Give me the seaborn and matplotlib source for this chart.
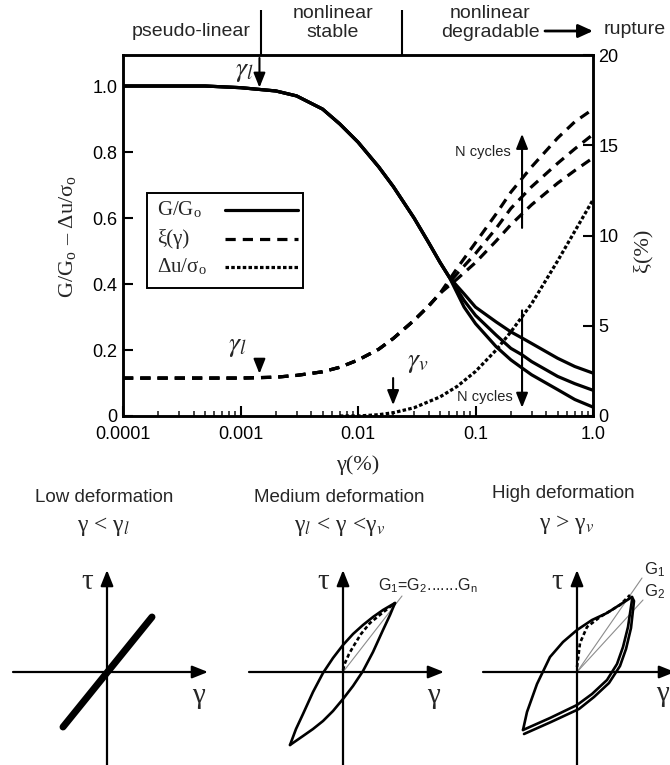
import matplotlib
matplotlib.use("Agg")
import matplotlib.pyplot as plt
from matplotlib.patches import Rectangle, FancyArrowPatch
import pandas as pd
import seaborn as sns

sns.set_theme(style="white")
plt.rcParams["font.family"] = ["Liberation Sans", "DejaVu Sans"]
plt.rcParams["mathtext.fontset"] = "stix"
SERIF = ["Liberation Serif", "DejaVu Serif"]

# ---------------- data ----------------
# shear modulus degradation G/Go, common part then three cycle counts
gamma_common = [1e-4, 2e-4, 5e-4, 1e-3, 2e-3, 3e-3, 5e-3, 7e-3, 1e-2, 1.5e-2, 2e-2, 3e-2, 4e-2, 5e-2, 6e-2]
modulus_common = [1.00, 1.00, 1.00, 0.995, 0.985, 0.97, 0.93, 0.885, 0.83, 0.755, 0.695, 0.60, 0.525, 0.465, 0.42]
gamma_tail = [0.08, 0.1, 0.15, 0.2, 0.25, 0.3, 0.5, 0.7, 1.0]
modulus_n1 = [0.37, 0.33, 0.285, 0.255, 0.236, 0.22, 0.175, 0.15, 0.13]
modulus_n2 = [0.35, 0.305, 0.245, 0.205, 0.185, 0.165, 0.12, 0.098, 0.078]
modulus_n3 = [0.33, 0.28, 0.21, 0.17, 0.145, 0.125, 0.08, 0.05, 0.027]

# damping ratio xi (%)
gamma_damp_common = [1e-4, 5e-4, 1e-3, 2e-3, 3e-3, 5e-3, 7e-3, 1e-2, 1.5e-2, 2e-2, 3e-2, 4e-2, 5e-2]
damping_common = [2.1, 2.1, 2.1, 2.15, 2.25, 2.45, 2.7, 3.1, 3.7, 4.3, 5.3, 6.1, 6.8]
gamma_damp_tail = [0.07, 0.1, 0.15, 0.2, 0.3, 0.5, 0.7, 1.0]
damping_n1 = [7.6, 8.5, 9.7, 10.6, 11.7, 12.9, 13.6, 14.3]
damping_n2 = [7.9, 9.0, 10.4, 11.5, 12.7, 14.0, 14.8, 15.6]
damping_n3 = [8.2, 9.6, 11.2, 12.4, 13.8, 15.4, 16.3, 17.0]

# excess pore pressure ratio
gamma_pore = [0.007, 0.01, 0.015, 0.02, 0.03, 0.05, 0.07, 0.1, 0.15, 0.2, 0.3, 0.5, 0.7, 1.0]
pore_ratio = [0.0, 0.0, 0.004, 0.01, 0.025, 0.058, 0.09, 0.135, 0.2, 0.255, 0.34, 0.47, 0.56, 0.655]

# threshold strains
gamma_l = 0.00145
gamma_v = 0.0199
regime_bounds = [0.0015, 0.0237]
gamma_ncycles = 0.249

x_ticks = [1e-4, 1e-3, 1e-2, 1e-1, 1.0]
x_ticklabels = ["0.0001", "0.001", "0.01", "0.1", "1.0"]
y_ticks = [0, 0.2, 0.4, 0.6, 0.8, 1.0]
y_ticklabels = ["0", "0.2", "0.4", "0.6", "0.8", "1.0"]
xi_ticks = [0, 5, 10, 15, 20]

legend_labels = ["G/G$_\\mathregular{o}$", "\u03be(\u03b3)", "\u0394u/\u03c3$_\\mathregular{o}$"]

# schematic stress-strain loops (normalised strain, stress)
lin_g = [-0.44, 0.45]
lin_t = [-0.55, 0.55]

mid_up_g = [-0.53, -0.47, -0.40, -0.30, -0.20, -0.10, 0.0, 0.10, 0.20, 0.30, 0.40, 0.52]
mid_up_t = [-0.73, -0.57, -0.42, -0.20, -0.01, 0.14, 0.27, 0.38, 0.47, 0.55, 0.62, 0.69]
mid_lo_g = [-0.53, -0.40, -0.30, -0.20, -0.10, 0.0, 0.10, 0.20, 0.30, 0.40, 0.47, 0.52]
mid_lo_t = [-0.73, -0.64, -0.57, -0.49, -0.39, -0.27, -0.14, 0.01, 0.20, 0.42, 0.57, 0.69]
mid_bb_g = [0.0, 0.02, 0.06, 0.10, 0.18, 0.27, 0.38, 0.52]
mid_bb_t = [0.02, 0.09, 0.18, 0.25, 0.38, 0.49, 0.58, 0.69]
mid_sec_g = [0.0, 0.59]
mid_sec_t = [0.0, 0.76]

high_up_g = [-0.54, -0.50, -0.40, -0.27, -0.14, 0.0, 0.15, 0.30, 0.55]
high_up_t = [-0.58, -0.40, -0.12, 0.15, 0.30, 0.42, 0.52, 0.59, 0.75]
high_lo1_g = [-0.54, -0.27, 0.0, 0.15, 0.30, 0.40, 0.46, 0.51, 0.55]
high_lo1_t = [-0.58, -0.46, -0.33, -0.22, -0.08, 0.08, 0.25, 0.45, 0.72]
high_lo2_g = [-0.53, -0.26, 0.02, 0.17, 0.32, 0.43, 0.49, 0.54, 0.57, 0.55]
high_lo2_t = [-0.62, -0.50, -0.37, -0.25, -0.11, 0.06, 0.23, 0.44, 0.71, 0.75]
high_bb_g = [0.0, 0.03, 0.10, 0.23, 0.43, 0.53]
high_bb_t = [0.05, 0.29, 0.45, 0.55, 0.67, 0.77]
high_sec1 = [0.65, 0.94]
high_sec2 = [0.66, 0.72]

# ---------------- figure ----------------
W, H = 670, 765
fig = plt.figure(figsize=(W / 100, H / 100), dpi=100)


def rect(l, t, r, b):
    return [l / W, 1 - b / H, (r - l) / W, (b - t) / H]


def fx(x):
    return x / W


def fy(y):
    return 1 - y / H


ax = fig.add_axes(rect(123, 55, 593, 416))
ax.set_xscale("log")
ax.set_xlim(1e-4, 1.0)
ax.set_ylim(0, 1.094)
ax2 = ax.twinx()
ax2.set_ylim(0, 20)

LW = 2.3
DASH = (0, (3.2, 2.2))
DOT = (0, (1.1, 0.7))

# long-form tables
rows = []
for name, tail in [("N1", modulus_n1), ("N2", modulus_n2), ("N3", modulus_n3)]:
    for g, v in zip(gamma_common + gamma_tail, modulus_common + tail):
        rows.append({"gamma": g, "value": v, "cycle": name})
df_mod = pd.DataFrame(rows)

rows = []
for name, tail in [("N1", damping_n1), ("N2", damping_n2), ("N3", damping_n3)]:
    for g, v in zip(gamma_damp_common + gamma_damp_tail, damping_common + tail):
        rows.append({"gamma": g, "value": v, "cycle": name})
df_damp = pd.DataFrame(rows)

df_pore = pd.DataFrame({"gamma": gamma_pore, "value": pore_ratio})

sns.lineplot(data=df_mod, x="gamma", y="value", units="cycle", estimator=None,
             color="black", lw=LW, ax=ax, legend=False)
sns.lineplot(data=df_pore, x="gamma", y="value", estimator=None,
             color="black", lw=LW, linestyle=DOT, ax=ax, legend=False, clip_on=False)
sns.lineplot(data=df_damp, x="gamma", y="value", units="cycle", estimator=None,
             color="black", lw=LW, linestyle=DASH, ax=ax2, legend=False)

# axes styling
for a in (ax, ax2):
    for s in a.spines.values():
        s.set_linewidth(1.8)
        s.set_color("black")
    a.set_xlabel("")
    a.set_ylabel("")
ax.set_xticks(x_ticks)
ax.set_xticklabels(x_ticklabels)
ax.set_yticks(y_ticks)
ax.set_yticklabels(y_ticklabels)
ax2.set_yticks(xi_ticks)
ax2.set_yticklabels([str(v) for v in xi_ticks])
ax.tick_params(axis="y", which="major", direction="in", length=7, width=1.5,
               labelsize=13, colors="black", pad=4, left=True, right=False)
ax.tick_params(axis="x", which="major", direction="in", length=7, width=1.5,
               labelsize=13, colors="black", pad=7, bottom=True, top=False)
ax.tick_params(axis="x", which="minor", direction="in", length=3.5, width=1.2,
               bottom=True, top=False)
ax.tick_params(axis="y", which="minor", left=False, right=False)
ax2.tick_params(axis="y", which="major", direction="in", length=7, width=1.5,
                labelsize=13, colors="black", pad=4, right=True, left=False)
ax.grid(False)
ax2.grid(False)

fig.text(fx(67), fy(237), "G/G$_\\mathregular{o}$ \u2013 \u0394u/\u03c3$_\\mathregular{o}$",
         rotation=90, ha="center", va="center", fontsize=16, family=SERIF)
fig.text(fx(643), fy(250), "\u03be(%)", rotation=90, ha="center", va="center",
         fontsize=16, family=SERIF)
fig.text(fx(358), fy(465), "\u03b3(%)", ha="center", va="center", fontsize=16, family=SERIF)

# legend box: label on the left, line sample on the right
leg_rows_y = [0.571, 0.490, 0.412]
leg_styles = ["-", DASH, DOT]
ax.add_patch(Rectangle((0.051, 0.355), 0.332, 0.263, transform=ax.transAxes,
                       facecolor="white", edgecolor="black", lw=1.4, zorder=4))
for yv, lab, ls in zip(leg_rows_y, legend_labels, leg_styles):
    ax.text(0.072, yv, lab, transform=ax.transAxes, ha="left", va="center",
            fontsize=15, family=SERIF, zorder=5)
    ax.plot([0.217, 0.372], [yv, yv], transform=ax.transAxes, color="black",
            lw=LW, linestyle=ls, zorder=5)

# threshold annotations
arrow_kw = dict(arrowstyle="-|>,head_length=0.55,head_width=0.22", color="black",
                lw=1.5, mutation_scale=16, shrinkA=0, shrinkB=0)
ax.annotate("", xy=(gamma_l, 0.995), xytext=(gamma_l, 1.085), arrowprops=arrow_kw,
            annotation_clip=False)
ax.text(0.00108, 1.045, "$\\gamma_l$", fontsize=20, ha="center", va="center")
ax.annotate("", xy=(gamma_l, 0.128), xytext=(gamma_l, 0.166), arrowprops=arrow_kw)
ax.text(0.00095, 0.212, "$\\gamma_l$", fontsize=20, ha="center", va="center")
ax.annotate("", xy=(gamma_v, 0.033), xytext=(gamma_v, 0.115), arrowprops=arrow_kw)
ax.text(0.0324, 0.164, "$\\gamma_v$", fontsize=20, ha="center", va="center")

ax.annotate("", xy=(gamma_ncycles, 0.855), xytext=(gamma_ncycles, 0.57), arrowprops=arrow_kw)
ax.text(0.199, 0.80, "N cycles", fontsize=10.5, ha="right", va="center", color="#222222")
ax.annotate("", xy=(gamma_ncycles, 0.025), xytext=(gamma_ncycles, 0.32), arrowprops=arrow_kw)
ax.text(0.207, 0.058, "N cycles", fontsize=10.5, ha="right", va="center", color="#222222")

# regime header
ax.vlines(regime_bounds, 1.0, 1.125, color="black", lw=1.5,
          transform=ax.get_xaxis_transform(), clip_on=False)
fig.text(fx(191), fy(31), "pseudo-linear", ha="center", va="center", fontsize=14)
fig.text(fx(333), fy(23), "nonlinear\nstable", ha="center", va="center", fontsize=14,
         linespacing=1.15)
fig.text(fx(490), fy(23), "nonlinear\ndegradable", ha="center", va="center", fontsize=14,
         linespacing=1.15)
fig.text(fx(604), fy(30), "rupture", ha="left", va="center", fontsize=14)
fig.patches.append(FancyArrowPatch(
    (fx(545), fy(31)), (fx(593), fy(31)), transform=fig.transFigure,
    arrowstyle="-|>,head_length=0.55,head_width=0.25", mutation_scale=16,
    color="black", lw=2.0, shrinkA=0, shrinkB=0))

# ---------------- schematic panels ----------------
axis_arrow = dict(arrowstyle="-|>,head_length=0.5,head_width=0.2", color="black",
                  lw=1.6, mutation_scale=19, shrinkA=0, shrinkB=0)


def panel(cx, x_end=1.01):
    a = fig.add_axes(rect(cx - 100, 560, cx + 100, 765))
    a.set_xlim(-1, 1)
    a.set_ylim(-0.93, 1.12)
    a.axis("off")
    a.annotate("", xy=(x_end, 0), xytext=(-0.94, 0), arrowprops=axis_arrow,
               annotation_clip=False)
    a.annotate("", xy=(0, 1.02), xytext=(0, -0.95), arrowprops=axis_arrow,
               annotation_clip=False)
    a.text(-0.2, 0.9, "\u03c4", fontsize=21, family=SERIF, ha="center", va="center")
    return a


LOOP_LW = 1.9
p1 = panel(107)
p1.plot(lin_g, lin_t, color="black", lw=5, solid_capstyle="round")
p1.text(0.91, -0.24, "\u03b3", fontsize=21, family=SERIF, ha="center", va="center")

p2 = panel(343)
p2.plot(mid_sec_g, mid_sec_t, color="#8c8c8c", lw=0.8)
p2.plot(mid_up_g, mid_up_t, color="black", lw=LOOP_LW, solid_joinstyle="round")
p2.plot(mid_lo_g, mid_lo_t, color="black", lw=LOOP_LW, solid_joinstyle="round")
p2.plot(mid_bb_g, mid_bb_t, color="black", lw=LOOP_LW, linestyle=(0, (1.5, 1.0)))
p2.text(0.9, -0.24, "\u03b3", fontsize=21, family=SERIF, ha="center", va="center")
p2.text(0.35, 0.86, "G$_\\mathregular{1}$=G$_\\mathregular{2}$.......G$_\\mathregular{n}$",
        fontsize=11.5, ha="left", va="center", color="#222222")

p3 = panel(577, x_end=0.98)
p3.plot([0, high_sec1[0]], [0, high_sec1[1]], color="#8c8c8c", lw=0.8)
p3.plot([0, high_sec2[0]], [0, high_sec2[1]], color="#8c8c8c", lw=0.8)
p3.plot(high_up_g, high_up_t, color="black", lw=LOOP_LW, solid_joinstyle="round")
p3.plot(high_lo1_g, high_lo1_t, color="black", lw=LOOP_LW, solid_joinstyle="round")
p3.plot(high_lo2_g, high_lo2_t, color="black", lw=LOOP_LW, solid_joinstyle="round")
p3.plot(high_bb_g, high_bb_t, color="black", lw=LOOP_LW, linestyle=(0, (1.5, 1.0)))
p3.text(0.85, -0.22, "\u03b3", fontsize=21, family=SERIF, ha="center", va="center")
p3.text(0.67, 1.02, "G$_\\mathregular{1}$", fontsize=12, ha="left", va="center", color="#222222")
p3.text(0.67, 0.80, "G$_\\mathregular{2}$", fontsize=12, ha="left", va="center", color="#222222")

# panel titles
fig.text(fx(104), fy(497), "Low deformation", ha="center", va="center", fontsize=13.5)
fig.text(fx(339), fy(497), "Medium deformation", ha="center", va="center", fontsize=13.5)
fig.text(fx(563), fy(493), "High deformation", ha="center", va="center", fontsize=13.5)
fig.text(fx(104), fy(527), "\u03b3 < \u03b3$_l$", ha="center", va="center", fontsize=17,
         family=SERIF)
fig.text(fx(340), fy(527), "\u03b3$_l$ < \u03b3 <\u03b3$_v$", ha="center", va="center",
         fontsize=17, family=SERIF)
fig.text(fx(567), fy(525), "\u03b3 > \u03b3$_v$", ha="center", va="center", fontsize=17,
         family=SERIF)

fig.savefig("out.png", dpi=100)
